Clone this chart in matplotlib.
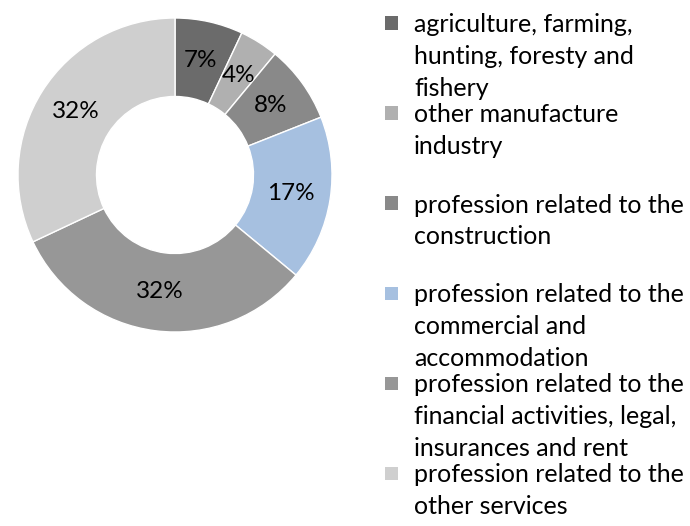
import matplotlib
matplotlib.use("Agg")
import matplotlib.pyplot as plt
from matplotlib.patches import Rectangle

plt.rcParams['font.family'] = ['Lato', 'DejaVu Sans']

# data
categories = [
    "agriculture, farming,\nhunting, foresty and\nfishery",
    "other manufacture\nindustry",
    "profession related to the\nconstruction",
    "profession related to the\ncommercial and\naccommodation",
    "profession related to the\nfinancial activities, legal,\ninsurances and rent",
    "profession related to the\nother services",
]
shares = [7, 4, 8, 17, 32, 32]
colors = ['#6b6b6b', '#b0b0b0', '#898989', '#a6c0e0', '#979797', '#cfcfcf']

W, H = 690, 526
fig = plt.figure(figsize=(W / 100, H / 100), dpi=100)

# donut
ax = fig.add_axes([18 / W, (H - 332) / H, 314 / W, 314 / H])
wedges, texts, autotexts = ax.pie(
    shares, colors=colors, startangle=90, counterclock=False,
    radius=1.0, wedgeprops=dict(width=0.5, edgecolor='white', linewidth=1),
    autopct='%1.0f%%', pctdistance=0.75,
    textprops=dict(fontsize=17.5, color='black'))
ax.set_xlim(-1, 1)
ax.set_ylim(-1, 1)
ax.set_aspect('equal')
ax.axis('off')

# legend drawn by hand to match spacing
sq = 13
for i, (lab, col) in enumerate(zip(categories, colors)):
    y0 = 23 + 90 * i
    fig.patches.append(Rectangle((385 / W, 1 - (y0 + sq / 2) / H), sq / W, sq / H,
                                 transform=fig.transFigure, facecolor=col,
                                 edgecolor='none'))
    for j, line in enumerate(lab.split("\n")):
        fig.text(414 / W, 1 - (y0 + 2 + 31.7 * j) / H, line, fontsize=18,
                 va='center', ha='left', color='black')

fig.savefig("out.png", dpi=100)
